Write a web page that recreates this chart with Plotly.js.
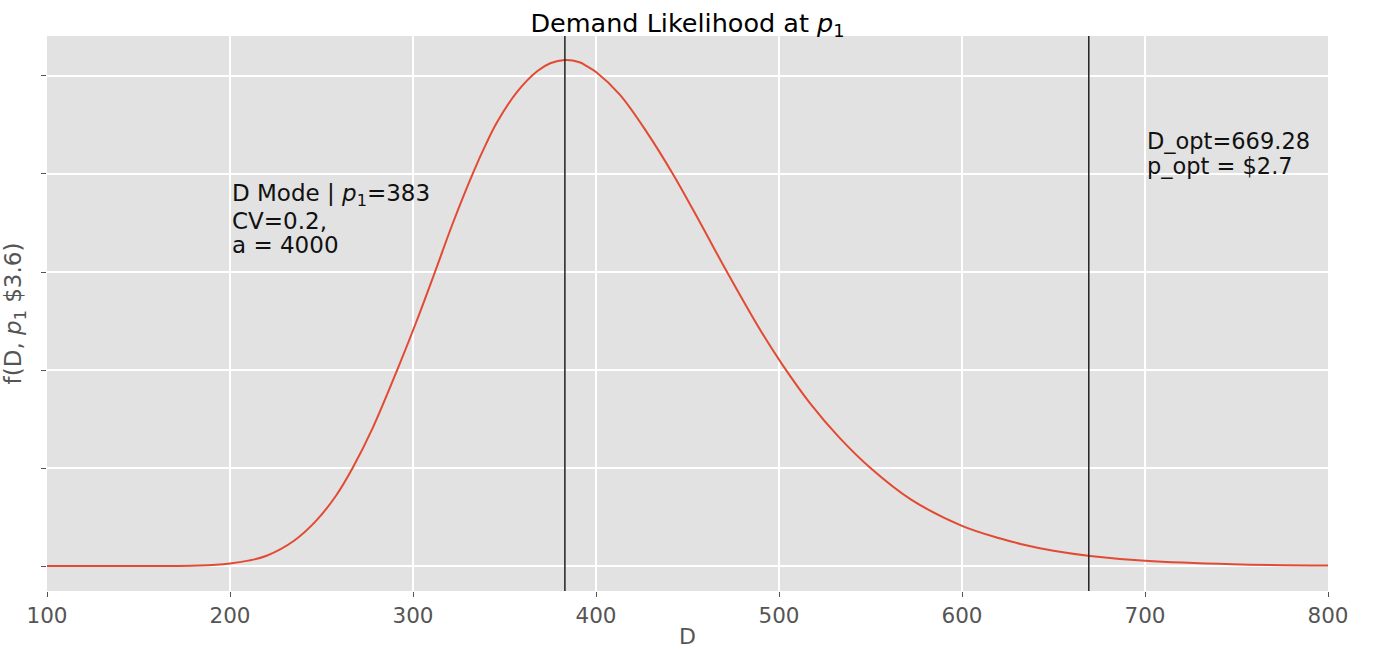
<!DOCTYPE html>
<html>
<head>
<meta charset="utf-8">
<script src="https://cdn.plot.ly/plotly-3.0.1.min.js"></script>
<style>
  html, body { margin: 0; padding: 0; background: #ffffff; }
  #chart { width: 1377px; height: 649px; }
</style>
</head>
<body>
<div id="chart"></div>
<script>
// Demand values D and read-off likelihood f(D)
const demand = [100, 150, 183, 200, 210, 220, 235, 247, 258, 267, 278, 292, 302, 312, 322, 333, 340, 346, 357, 368, 375, 383, 391, 395, 400, 413, 428, 442, 457, 471, 490, 502, 517, 533, 550, 572, 600, 621, 632, 650, 670, 700, 748, 800];
const likelihood = [0, 0, 0.000005, 0.000026, 0.000055, 0.000105, 0.000258, 0.00046, 0.00072, 0.00100, 0.00141, 0.00203, 0.00250, 0.00300, 0.00351, 0.00402, 0.00431, 0.00453, 0.00484, 0.00505, 0.00513, 0.005163, 0.00514, 0.00510, 0.00504, 0.00481, 0.00442, 0.00400, 0.00350, 0.00302, 0.00240, 0.00205, 0.00166, 0.00131, 0.00100, 0.00068, 0.00041, 0.00028, 0.000225, 0.000155, 0.000102, 0.000053, 0.000018, 0.000005];

const xTicks = [100, 200, 300, 400, 500, 600, 700, 800];
const yTicks = [0, 0.001, 0.002, 0.003, 0.004, 0.005];

const dMode = 383;
const dOpt = 669.28;
const modeLines = ["D Mode | <i>p</i><sub>1</sub>=383", "CV=0.2,", "a = 4000"];
const optLines = ["D_opt=669.28", "p_opt = $2.7"];

const FONT = "DejaVu Sans, Liberation Sans, sans-serif";

const trace = {
  x: demand,
  y: likelihood,
  type: "scatter",
  mode: "lines",
  line: { color: "#E24A33", width: 2, shape: "spline", smoothing: 1 },
  hoverinfo: "x+y",
  showlegend: false
};

const modeY = [0.003786, 0.003520, 0.003276];
const optY = [0.004337, 0.004082];
const annotations = [];
modeLines.forEach((t, i) => annotations.push({
  x: 200, y: modeY[i], xref: "x", yref: "y", text: t, showarrow: false,
  xanchor: "left", yanchor: "middle", font: { family: FONT, size: 23, color: "#111" }
}));
optLines.forEach((t, i) => annotations.push({
  x: 700, y: optY[i], xref: "x", yref: "y", text: t, showarrow: false,
  xanchor: "left", yanchor: "middle", font: { family: FONT, size: 22.5, color: "#111" }
}));

const layout = {
  width: 1377, height: 649,
  margin: { l: 47, r: 49, t: 36, b: 58 },
  paper_bgcolor: "#ffffff",
  plot_bgcolor: "#E2E2E2",
  font: { family: FONT, color: "#555555" },
  title: {
    text: "Demand Likelihood at <i>p</i><sub>1</sub>",
    font: { family: FONT, size: 25.5, color: "#000000" },
    x: 0.5, xref: "paper", xanchor: "center",
    y: 1, yref: "paper", yanchor: "bottom", pad: { b: 4 }
  },
  xaxis: {
    range: [100, 800],
    tickvals: xTicks,
    ticktext: xTicks.map(String),
    ticks: "outside", ticklen: 5, tickcolor: "#555555", tickwidth: 1,
    tickfont: { family: FONT, size: 21.5, color: "#555555" },
    showgrid: true, gridcolor: "#ffffff", gridwidth: 1.5,
    zeroline: false, showline: false,
    title: { text: "D", font: { family: FONT, size: 22, color: "#555555" }, standoff: 6 }
  },
  yaxis: {
    range: [-0.000255, 0.005408],
    tickvals: yTicks,
    showticklabels: false,
    ticks: "outside", ticklen: 5, tickcolor: "#555555", tickwidth: 1,
    showgrid: true, gridcolor: "#ffffff", gridwidth: 1.5,
    zeroline: false, showline: false,
    title: { text: "f(D, <i>p</i><sub>1</sub> $3.6)", font: { family: FONT, size: 23, color: "#555555" } }
  },
  shapes: [dMode, dOpt].map(v => ({
    type: "line", xref: "x", yref: "paper", x0: v, x1: v, y0: 0, y1: 1,
    line: { color: "#222222", width: 1.5 }
  })),
  annotations: annotations
};

Plotly.newPlot("chart", [trace], layout, { displayModeBar: false, staticPlot: true });
</script>
</body>
</html>
